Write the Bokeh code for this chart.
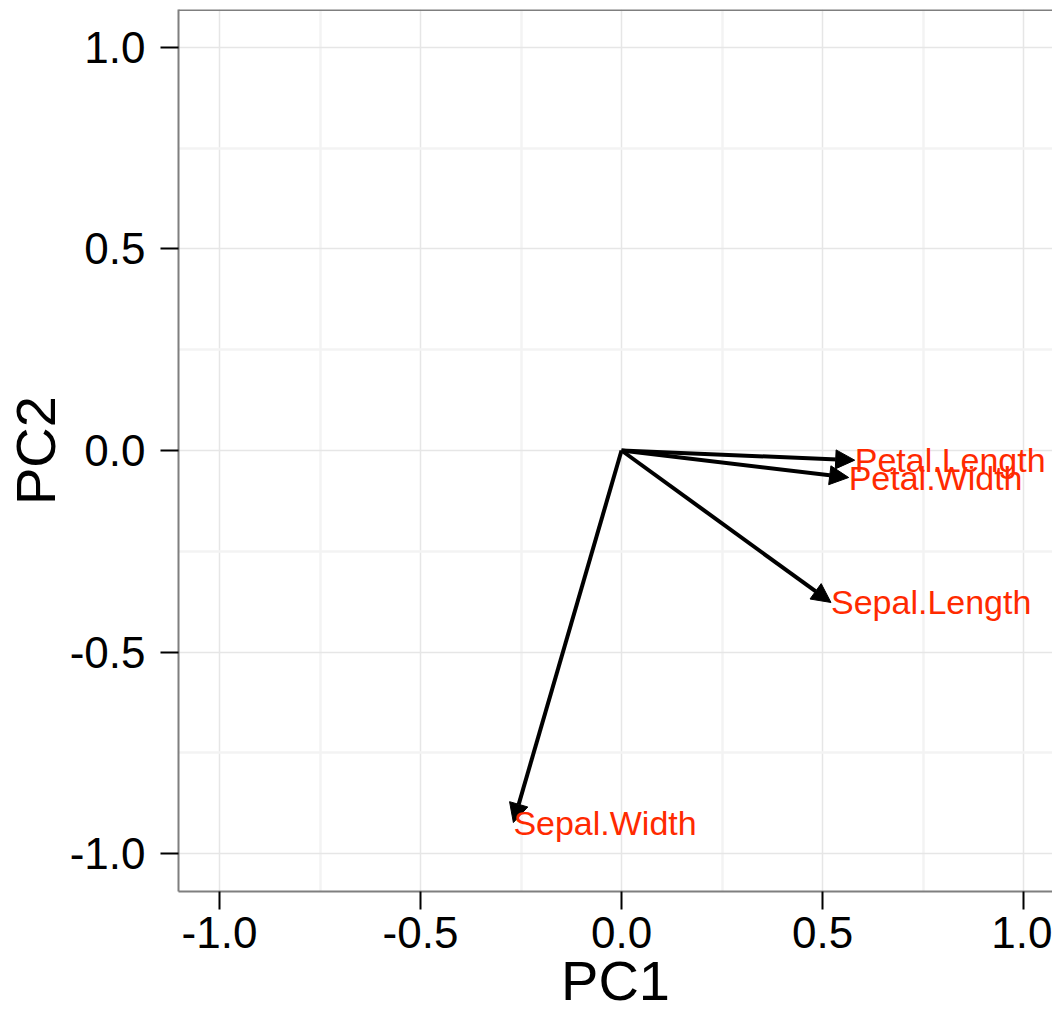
from bokeh.plotting import figure
from bokeh.models import (ColumnDataSource, Arrow, NormalHead, FixedTicker, Span,
                          Range1d, LabelSet, CustomJSTickFormatter)
from bokeh.core.properties import value
from bokeh.embed import file_html
from bokeh.resources import INLINE

# ---- data ----
variables = ["Sepal.Length", "Sepal.Width", "Petal.Length", "Petal.Width"]
pc1 = [0.521, -0.269, 0.580, 0.565]
pc2 = [-0.377, -0.923, -0.024, -0.067]
major_ticks = [-1.0, -0.5, 0.0, 0.5, 1.0]
minor_ticks = [-0.75, -0.25, 0.25, 0.75]
x_label = "PC1"
y_label = "PC2"

FONT = "Liberation Sans"
X0, X1 = -1.102, 1.072
Y0, Y1 = -1.094, 1.094

p = figure(width=1052, height=1014, output_backend="svg", toolbar_location=None,
           x_range=Range1d(X0, X1), y_range=Range1d(Y0, Y1),
           min_border_left=178, min_border_right=0, min_border_top=9,
           min_border_bottom=118)
p.outline_line_color = None
p.background_fill_color = "white"
p.border_fill_color = "white"

fmt = CustomJSTickFormatter(code="return tick.toFixed(1);")
for ax in (p.xaxis[0], p.yaxis[0]):
    ax.ticker = FixedTicker(ticks=major_ticks, minor_ticks=minor_ticks)
    ax.formatter = fmt
    ax.major_label_text_font = FONT
    ax.major_label_text_font_size = "44px"
    ax.major_label_text_color = "black"
    ax.major_tick_out = 18
    ax.major_tick_in = 0
    ax.major_tick_line_width = 2
    ax.major_tick_line_color = "black"
    ax.minor_tick_line_color = None
    ax.axis_line_color = "#7f7f7f"
    ax.axis_line_width = 2
    ax.axis_label_text_font = FONT
    ax.axis_label_text_font_size = "56px"
    ax.axis_label_text_font_style = "normal"
    ax.axis_label_text_color = "black"

p.xaxis.axis_label = x_label
p.yaxis.axis_label = y_label
p.xaxis.major_label_standoff = 7
p.yaxis.major_label_standoff = 15
p.xaxis.axis_label_standoff = -2
p.yaxis.axis_label_standoff = 0

for g in (p.xgrid[0], p.ygrid[0]):
    g.ticker = FixedTicker(ticks=major_ticks, minor_ticks=minor_ticks)
    g.grid_line_color = "#e6e6e6"
    g.grid_line_width = 1.5
    g.minor_grid_line_color = "#f3f3f3"
    g.minor_grid_line_width = 2.5

p.add_layout(Span(location=Y1, dimension="width", line_color="#7f7f7f", line_width=3))

src = ColumnDataSource(dict(x0=[0.0] * len(pc1), y0=[0.0] * len(pc2),
                            x=pc1, y=pc2, name=variables))

p.add_layout(Arrow(end=NormalHead(size=19, fill_color="black", line_color="black",
                                  line_width=1),
                   x_start="x0", y_start="y0", x_end="x", y_end="y",
                   line_color="black", line_width=4, source=src))

p.add_layout(LabelSet(x="x", y="y", text="name", source=src,
                      text_font=value(FONT), text_font_size="34px",
                      text_color="#ff2a00",
                      text_align="left", text_baseline="middle"))

open("out.html", "w").write(file_html(p, INLINE))
